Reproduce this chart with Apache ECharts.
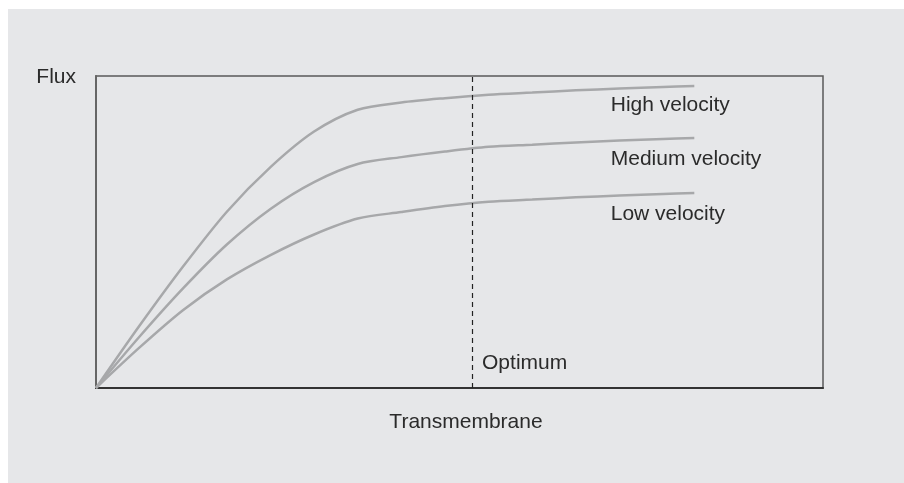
<!DOCTYPE html>
<html>
<head>
    <meta charset="utf-8">
    <title>Flux vs transmembrane</title>
    <script src="https://cdn.jsdelivr.net/npm/echarts@6/dist/echarts.min.js"></script>
    <style>
        body { margin: 0; background: #fff; }
        #chart-container {
            position: absolute;
            left: 8px;
            top: 9px;
            width: 896px;
            height: 474px;
        }
    </style>
</head>
<body>
<div id="chart-container"></div>
<script>
    const chartDom = document.getElementById('chart-container');
    const myChart = echarts.init(chartDom);

    // values (axes 0..100, no units)
    const transmembrane = [0, 6, 12, 18, 24, 30, 36, 42, 48, 54, 60, 66, 72, 78, 82.3];
    const fluxHigh   = [0, 20, 39, 56.5, 70.8, 82.2, 89.2, 91.5, 92.9, 94.0, 94.7, 95.4, 96.0, 96.5, 96.8];
    const fluxMedium = [0, 16.5, 32, 46, 57.4, 66, 71.8, 74.0, 75.8, 77.3, 78.0, 78.7, 79.3, 79.8, 80.1];
    const fluxLow    = [0, 13, 25, 34.8, 42.6, 49.2, 54.3, 56.4, 58.3, 59.7, 60.4, 61.1, 61.7, 62.2, 62.5];
    const seriesNames = ['High velocity', 'Medium velocity', 'Low velocity'];
    const labelPos = [[70.8, 90.8], [70.8, 73.2], [70.8, 55.6]];
    const optimumX = 51.7;
    const optimumLabel = [53.1, 8.0];

    const font = '"Liberation Sans", sans-serif';
    const textColor = '#2b2b2b';

    const makeSeries = (name, values, i) => ({
        name: name,
        type: 'line',
        smooth: 0.3,
        symbol: 'none',
        silent: true,
        lineStyle: { color: '#a7a8aa', width: 2.5 },
        data: transmembrane.map((x, k) => [x, values[k]]),
        markPoint: {
            symbol: 'circle',
            symbolSize: 0,
            silent: true,
            label: {
                show: true,
                position: 'inside',
                align: 'left',
                verticalAlign: 'middle',
                color: textColor,
                fontFamily: font,
                fontSize: 21,
                formatter: name
            },
            data: [{ coord: labelPos[i] }]
        }
    });

    const series = [
        makeSeries(seriesNames[0], fluxHigh, 0),
        makeSeries(seriesNames[1], fluxMedium, 1),
        makeSeries(seriesNames[2], fluxLow, 2)
    ];

    // dashed optimum line + its label
    series[0].markLine = {
        silent: true,
        symbol: 'none',
        label: { show: false },
        lineStyle: { color: '#222', type: [5, 4], width: 1.2 },
        data: [{ xAxis: optimumX }]
    };
    series[0].markPoint.data.push({
        coord: optimumLabel,
        label: { formatter: 'Optimum' }
    });

    const option = {
        backgroundColor: '#e6e7e9',
        animation: false,
        grid: {
            left: 88,
            top: 67,
            right: 81,
            bottom: 95,
            show: true,
            borderColor: '#5a5a5a',
            borderWidth: 1.5,
            backgroundColor: 'transparent'
        },
        xAxis: {
            type: 'value',
            min: 0,
            max: 100,
            name: 'Transmembrane',
            nameLocation: 'middle',
            nameGap: 24,
            nameTextStyle: {
                color: textColor,
                fontFamily: font,
                fontSize: 21,
                padding: [0, 0, 0, 13]
            },
            axisLine: { show: true, lineStyle: { color: '#333', width: 2 } },
            axisTick: { show: false },
            axisLabel: { show: false },
            splitLine: { show: false }
        },
        yAxis: {
            type: 'value',
            min: 0,
            max: 100,
            name: 'Flux',
            nameLocation: 'end',
            nameGap: -1,
            nameTextStyle: {
                color: textColor,
                fontFamily: font,
                fontSize: 21,
                align: 'right',
                verticalAlign: 'middle',
                padding: [0, 20, 0, 0]
            },
            axisLine: { show: true, lineStyle: { color: '#666', width: 2 } },
            axisTick: { show: false },
            axisLabel: { show: false },
            splitLine: { show: false }
        },
        series: series
    };

    myChart.setOption(option);

    window.addEventListener('resize', function() {
        myChart.resize();
    });
</script>
</body>
</html>
